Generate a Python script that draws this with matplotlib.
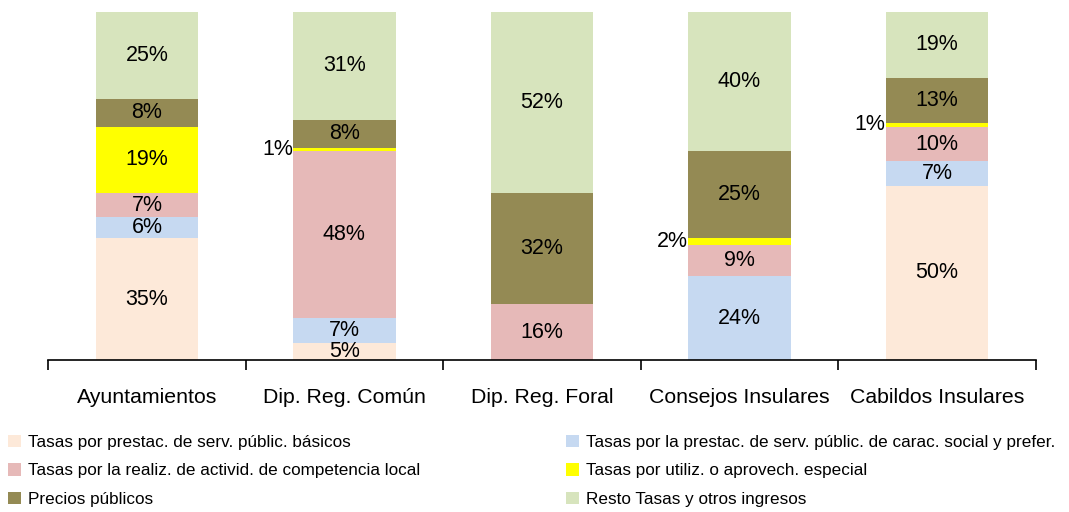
import matplotlib.pyplot as plt
import numpy as np

plt.rcParams['font.family'] = ['Liberation Sans Narrow', 'Liberation Sans', 'DejaVu Sans']

categories = ["Ayuntamientos", "Dip. Reg. Común", "Dip. Reg. Foral",
              "Consejos Insulares", "Cabildos Insulares"]

series_names = [
    "Tasas por prestac. de serv. públic. básicos",
    "Tasas por la prestac. de serv. públic. de carac. social y prefer.",
    "Tasas por la realiz. de activid. de competencia local",
    "Tasas por utiliz. o aprovech. especial",
    "Precios públicos",
    "Resto Tasas y otros ingresos",
]

basicos = [35, 5, 0, 0, 50]
social = [6, 7, 0, 24, 7]
local = [7, 48, 16, 9, 10]
especial = [19, 1, 0, 2, 1]
precios = [8, 8, 32, 25, 13]
resto = [25, 31, 52, 40, 19]

colors = ["#FDE9D9", "#C6D9F1", "#E6B9B8", "#FFFF00", "#948A54", "#D7E4BD"]

fig = plt.figure(figsize=(10.69, 5.12), dpi=100)
ax = fig.add_axes([0.045, 0.297, 0.924, 0.68])

x = np.arange(len(categories))
width = 0.52
bottom = np.zeros(len(categories))
handles = []
for name, vals, col in zip(series_names,
                           [basicos, social, local, especial, precios, resto],
                           colors):
    vals = np.array(vals, dtype=float)
    bars = ax.bar(x, vals, width, bottom=bottom, color=col, label=name)
    handles.append(bars)
    for xi, b, v in zip(x, bottom, vals):
        if v <= 0:
            continue
        if v <= 2:
            # thin slices get their label left of the bar
            ax.text(xi - width / 2, b + v / 2, f"{v:.0f}%", ha='right', va='center',
                    fontsize=15.5)
        else:
            ax.text(xi, b + v / 2, f"{v:.0f}%", ha='center', va='center',
                    fontsize=15.5)
    bottom += vals

ax.set_xlim(-0.5, len(categories) - 0.5)
ax.set_ylim(0, 100)
ax.set_xticks(x)
ax.set_xticklabels(categories, fontsize=15.3)
ax.set_xticks(np.arange(-0.5, len(categories)), minor=True)
ax.tick_params(axis='x', which='major', length=0, pad=20)
ax.tick_params(axis='x', which='minor', length=7, width=1.2, direction='out')
ax.set_yticks([])
for s in ['left', 'right', 'top']:
    ax.spines[s].set_visible(False)
ax.spines['bottom'].set_linewidth(1.2)

# legend is filled column by column, so reorder to read row by row
order = [0, 2, 4, 1, 3, 5]
fig.legend([handles[i] for i in order], [series_names[i] for i in order],
           loc='upper left', bbox_to_anchor=(0.001, 0.164), ncol=2,
           frameon=False, fontsize=12.3, handlelength=0.75, handleheight=0.75,
           handletextpad=0.4, columnspacing=8.57, labelspacing=0.77,
           borderaxespad=0)

fig.savefig("out.png", dpi=100)
